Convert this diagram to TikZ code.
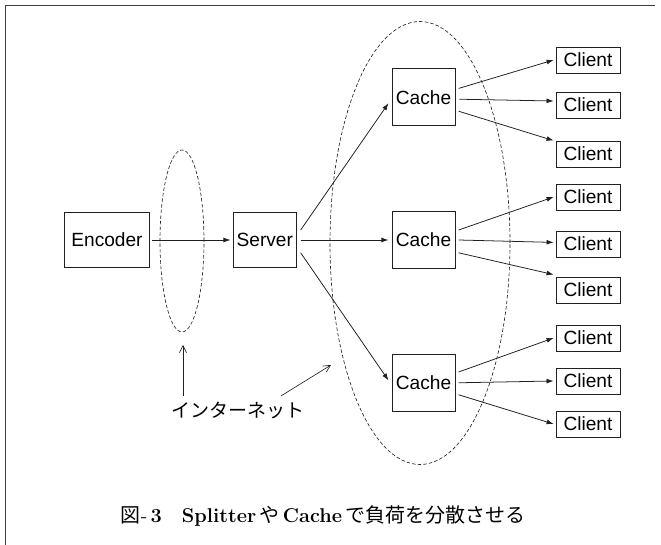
\documentclass[tikz,border=0pt]{standalone}
\usepackage{fontspec}
\usepackage{tikz}
\usetikzlibrary{arrows.meta,positioning,calc,shapes.geometric}
\newfontfamily\labelfont{Liberation Sans}
\newfontfamily\cjk{Noto Sans CJK JP}
\definecolor{inkgray}{HTML}{202020}

\begin{document}
\begin{tikzpicture}[x=0.25mm, y=-0.25mm,
  box/.style={draw, inkgray, line width=0.55pt, inner sep=1pt, font=\labelfont\fontsize{13.6}{15}\selectfont, text=black},
  client/.style={box, minimum width=16mm, minimum height=6.5mm},
  ring/.style={draw, inkgray, ellipse, line width=0.45pt, dash pattern=on 2.5pt off 1.5pt, inner sep=0pt},
  arr/.style={-{Latex[length=5pt, width=3.5pt]}, line width=0.55pt, inkgray},
  thinarr/.style={-{Straight Barb[length=5pt, width=5pt]}, line width=0.45pt, inkgray}
]
  \useasboundingbox (0,0) rectangle (661,545);
  % frame
  \draw[line width=0.7pt, black!75] (655,5) -- (5,5) -- (5,545);

  % internet regions
  \node[ring, minimum width=11mm, minimum height=45.5mm] (inetA) at (182,241) {};
  \node[ring, minimum width=45mm, minimum height=110.75mm] (inetB) at (420,243) {};

  % sources
  \node[box, minimum width=21.25mm, minimum height=13.75mm] (enc) at (107,240) {Encoder};
  \node[box, minimum width=15.75mm, minimum height=13.75mm, right=20.75mm of enc] (srv) {Server};

  % caches
  \node[box, minimum width=15.75mm, minimum height=14.25mm, right=23.75mm of srv] (cacheB) {Cache};
  \node[box, minimum width=15.75mm, minimum height=14.25mm, above=21.25mm of cacheB] (cacheA) {Cache};
  \node[box, minimum width=15.75mm, minimum height=14.25mm, below=21.25mm of cacheB] (cacheC) {Cache};

  % clients
  \node[client] (cl1) at (588,60) {Client};
  \node[client] (cl2) at (588,105) {Client};
  \node[client] (cl3) at (588,154) {Client};
  \node[client] (cl4) at (588,197) {Client};
  \node[client] (cl5) at (588,244) {Client};
  \node[client] (cl6) at (588,290) {Client};
  \node[client] (cl7) at (588,338) {Client};
  \node[client] (cl8) at (588,381) {Client};
  \node[client] (cl9) at (588,424) {Client};

  % stream
  \draw[arr] ([xshift=0.6mm]enc.east) -- ([xshift=-0.6mm]srv.west);
  \draw[arr] ([xshift=1mm, yshift=2.5mm]srv.east) -- ([xshift=-0.8mm, yshift=-1.5mm]cacheA.west);
  \draw[arr] ([xshift=1mm]srv.east) -- ([xshift=-0.8mm]cacheB.west);
  \draw[arr] ([xshift=1mm, yshift=-3.2mm]srv.east) -- ([xshift=-0.8mm, yshift=0.6mm]cacheC.west);

  \draw[arr] ([xshift=0.8mm, yshift=2.2mm]cacheA.east) -- ([xshift=-0.5mm]cl1.west);
  \draw[arr] ([xshift=1mm, yshift=-0.5mm]cacheA.east) -- ([xshift=-0.5mm, yshift=1mm]cl2.west);
  \draw[arr] ([xshift=0.8mm, yshift=-3.5mm]cacheA.east) -- ([xshift=-0.5mm]cl3.north west);

  \draw[arr] ([xshift=0.8mm, yshift=2.5mm]cacheB.east) -- ([xshift=-0.5mm]cl4.west);
  \draw[arr] ([xshift=0.8mm]cacheB.east) -- ([xshift=-0.5mm, yshift=0.4mm]cl5.west);
  \draw[arr] ([xshift=0.8mm, yshift=-3.2mm]cacheB.east) -- ([xshift=-0.5mm, yshift=0.5mm]cl6.north west);

  \draw[arr] ([xshift=0.8mm, yshift=2.7mm]cacheC.east) -- ([xshift=-0.5mm]cl7.west);
  \draw[arr] ([xshift=0.8mm]cacheC.east) -- ([xshift=-0.5mm]cl8.west);
  \draw[arr] ([xshift=0.8mm, yshift=-3mm]cacheC.east) -- ([xshift=-0.5mm]cl9.west);

  % internet label
  \node[font=\cjk\fontsize{13.5}{15}\selectfont, inner sep=1pt] (inet) at (238,410) {インターネット};
  \coordinate (tipA) at (183,345);
  \coordinate (tipB) at (331,365);
  \draw[thinarr] (inet.north west -| tipA) ++(0,-4) -- (tipA);
  \draw[thinarr] ($(inet.north east)+(-25,-4)$) -- (tipB);

  % caption
  \node[inner sep=0pt, font=\fontsize{14.2}{16}\selectfont] (cap) at (323,516)
    {{\cjk 図}-\,\textbf{3}\quad\textbf{Splitter}\,{\cjk や}\,\textbf{Cache}\,{\cjk で負荷を分散させる}};
\end{tikzpicture}
\end{document}
